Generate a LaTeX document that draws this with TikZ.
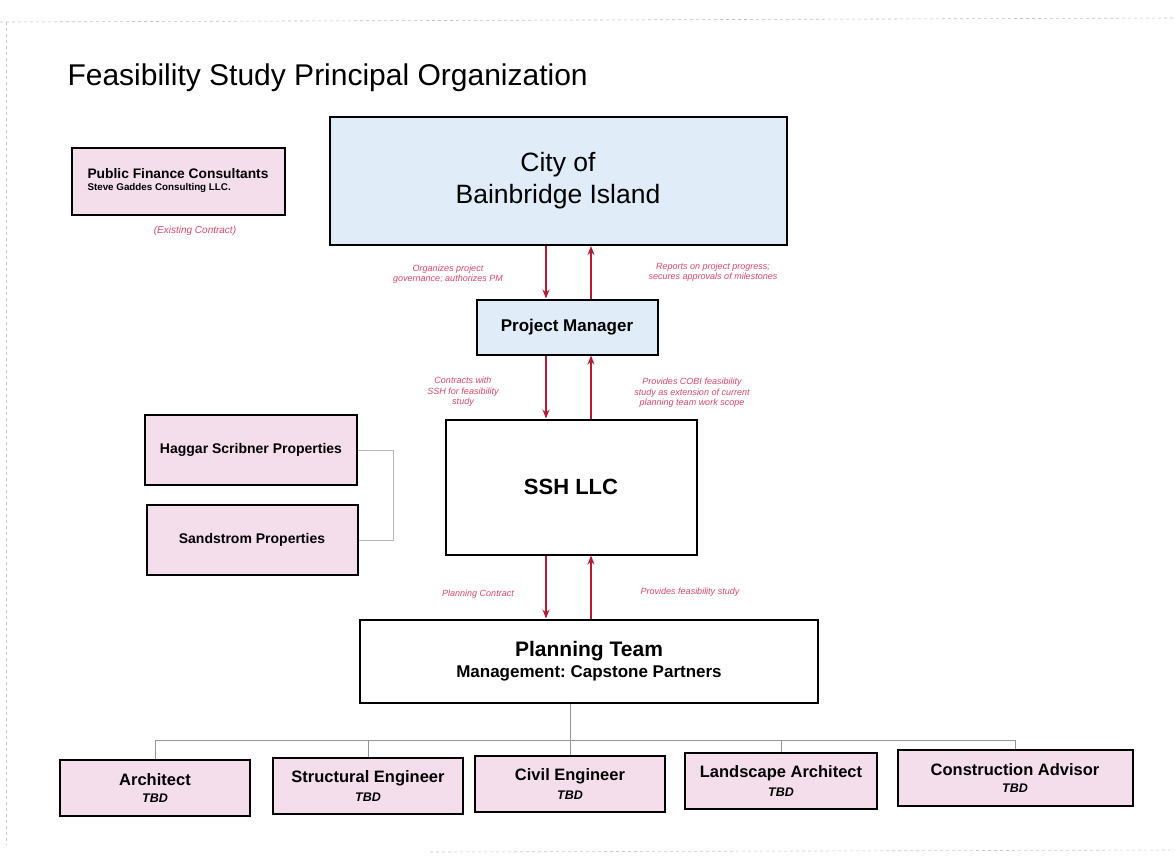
\documentclass[tikz,border=0pt]{standalone}
\usepackage{fontspec}
\setmainfont{Liberation Sans}
\usetikzlibrary{arrows.meta}
\definecolor{boxpink}{RGB}{244,222,236}
\definecolor{boxblue}{RGB}{224,237,249}
\definecolor{arrowred}{RGB}{178,28,52}
\definecolor{notered}{RGB}{222,70,105}
\definecolor{linegray}{RGB}{150,150,150}
% two-line label of a planning team member
\newcommand\teamlabel[1]{{\fontsize{16.5}{20}\selectfont\bfseries #1}\\[5pt]{\fontsize{12.5}{14}\selectfont\bfseries\itshape TBD}}
\begin{document}
\frenchspacing
\begin{tikzpicture}[x=1pt,y=-1pt,
  box/.style={draw=black, line width=2pt, align=center, inner sep=2pt},
  pinkbox/.style={box, fill=boxpink},
  bluebox/.style={box, fill=boxblue},
  whitebox/.style={box, fill=white},
  flow/.style={draw=arrowred, line width=1.6pt, -{Stealth[length=9pt,width=7pt]}},
  note/.style={text=notered, font=\fontsize{9}{10.5}\selectfont\itshape, align=center},
  tree/.style={draw=linegray, line width=0.8pt},
  lbl/.style={font=\fontsize{14}{17}\selectfont\bfseries},
  member/.style={pinkbox, minimum height=56pt},
]
\useasboundingbox (0,0) rectangle (1175,855);
\fill[white] (0,0) rectangle (1175,855);

% faint page edges
\draw[linegray!60, dashed, line width=0.6pt] (0,22) -- (1175,18);
\draw[linegray!50, dashed, line width=0.6pt] (6,22) -- (6,845);
\draw[linegray!50, dashed, line width=0.6pt] (430,852) -- (1175,850);

% title
\node[anchor=base west, font=\fontsize{30}{35}\selectfont] (title) at (64,85) {Feasibility Study Principal Organization};

% main chain
\node[bluebox, minimum width=457pt, minimum height=128pt, font=\fontsize{26.5}{32}\selectfont] (city) at (558,181) {City of\\Bainbridge Island};
\node[bluebox, minimum width=181pt, minimum height=55pt, font=\fontsize{17}{20}\selectfont\bfseries] (pm) at (567,327) {Project Manager};
\node[whitebox, minimum width=251pt, minimum height=135pt, font=\fontsize{22}{26}\selectfont\bfseries] (ssh) at (571,487) {SSH LLC};
\node[whitebox, minimum width=458pt, minimum height=83pt] (pt) at (589,661)
  {{\fontsize{21}{26}\selectfont\bfseries Planning Team}\\[4pt]{\fontsize{17}{20}\selectfont\bfseries Management: Capstone Partners}};

% side parties
\node[pinkbox, minimum width=213pt, minimum height=67pt, align=left] (pfc) at (178,181)
  {{\fontsize{13.8}{16}\selectfont\bfseries Public Finance Consultants}\\{\fontsize{9.8}{12}\selectfont\bfseries Steve Gaddes Consulting LLC.}};
\node[note, font=\fontsize{10}{12}\selectfont\itshape] (existing) at (195,231) {(Existing Contract)};
\node[pinkbox, minimum width=212pt, minimum height=70pt, lbl] (haggar) at (251,450) {Haggar Scribner Properties};
\node[pinkbox, minimum width=211pt, minimum height=70pt, lbl] (sand) at (252,540) {Sandstrom Properties};

% planning team members
\node[member, minimum width=190pt] (arch) at (155,788) {\teamlabel{Architect}};
\node[member, minimum width=190pt] (struct) at (368,786) {\teamlabel{Structural Engineer}};
\node[member, minimum width=190pt] (civil) at (570,784) {\teamlabel{Civil Engineer}};
\node[member, minimum width=192pt] (land) at (781,781) {\teamlabel{Landscape Architect}};
\node[member, minimum width=235pt] (cons) at (1015,778) {\teamlabel{Construction Advisor}};

% arrow lanes
\coordinate (down) at (546,0);
\coordinate (up) at (591,0);
\coordinate (bus) at (0,740);
\coordinate (brk) at (393,0);

\draw[flow] (city.south -| down) -- (pm.north -| down);
\draw[flow] (pm.north -| up) -- (city.south -| up);
\draw[flow] (pm.south -| down) -- (ssh.north -| down);
\draw[flow] (ssh.north -| up) -- (pm.south -| up);
\draw[flow] (ssh.south -| down) -- (pt.north -| down);
\draw[flow] (pt.north -| up) -- (ssh.south -| up);

% arrow notes
\node[note] (n1) at (448,274) {Organizes project\\governance; authorizes PM};
\node[note] (n2) at (713,272) {Reports on project progress;\\secures approvals of milestones};
\node[note] (n3) at (463,392) {Contracts with\\SSH for feasibility\\study};
\node[note] (n4) at (692,393) {Provides COBI feasibility\\study as extension of current\\planning team work scope};
\node[note] (n5) at (478,594) {Planning Contract};
\node[note] (n6) at (690,592) {Provides feasibility study};

% property owners bracket
\draw[tree, linegray!70] (haggar.east) -- (haggar.east -| brk) -- (sand.east -| brk) -- (sand.east);

% team tree
\draw[tree] (pt.south -| civil.north) -- (civil.north);
\draw[tree] (arch.north |- bus) -- (cons.north |- bus);
\foreach \m in {arch,struct,land,cons}
  \draw[tree] (\m.north) -- (\m.north |- bus);
\end{tikzpicture}
\end{document}
